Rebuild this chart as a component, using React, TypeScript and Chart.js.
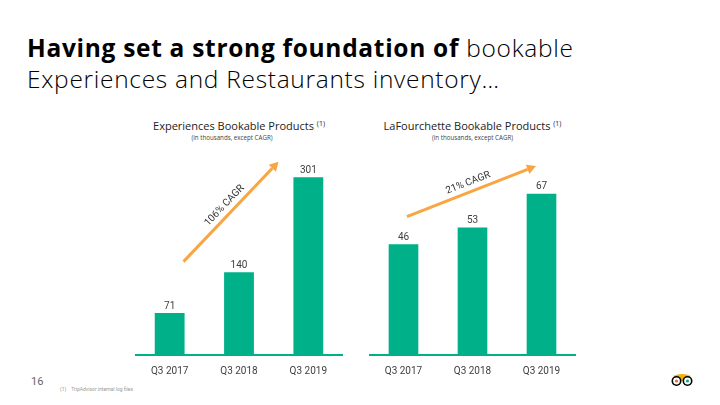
import React, { useEffect, useRef } from 'react';
import { Chart, registerables } from 'chart.js';

Chart.register(...registerables);

const categories = ['Q3 2017', 'Q3 2018', 'Q3 2019'];
const experiencesValues = [71, 140, 301];
const laFourchetteValues = [46, 53, 67];
const experiencesAxisMax = 330;
const laFourchetteAxisMax = 81;
// CAGR arrows in data space: [category index, value]
const experiencesCagr = { label: '106% CAGR', from: [0.2, 158], to: [1.57, 327] };
const laFourchetteCagr = { label: '21% CAGR', from: [0.05, 57.5], to: [1.92, 78.5] };

const GREEN = '#00B088';
const ORANGE = '#F9A541';
const LABEL_FONT = 'Roboto';

const valueLabelPlugin = {
  id: 'valueLabels',
  afterDatasetsDraw(chart: any) {
    const ctx = chart.ctx;
    const meta = chart.getDatasetMeta(0);
    const data = chart.data.datasets[0].data;
    ctx.save();
    ctx.font = `10px ${LABEL_FONT}`;
    ctx.fillStyle = '#404040';
    ctx.textAlign = 'center';
    ctx.textBaseline = 'bottom';
    meta.data.forEach((bar: any, i: number) => {
      ctx.fillText(String(data[i]), bar.x, bar.y - 2);
    });
    ctx.restore();
  },
};

const arrowPlugin = {
  id: 'cagrArrow',
  afterDatasetsDraw(chart: any, _args: any, opts: any) {
    if (!opts || !opts.from) return;
    const xs = chart.scales.x;
    const ys = chart.scales.y;
    const x1 = xs.getPixelForValue(opts.from[0]);
    const y1 = ys.getPixelForValue(opts.from[1]);
    const x2 = xs.getPixelForValue(opts.to[0]);
    const y2 = ys.getPixelForValue(opts.to[1]);
    const ang = Math.atan2(y2 - y1, x2 - x1);
    const headLen = 9;
    const headW = 5;
    const bx = x2 - headLen * Math.cos(ang);
    const by = y2 - headLen * Math.sin(ang);
    const ctx = chart.ctx;
    ctx.save();
    ctx.strokeStyle = ORANGE;
    ctx.fillStyle = ORANGE;
    ctx.lineWidth = 3;
    ctx.beginPath();
    ctx.moveTo(x1, y1);
    ctx.lineTo(bx, by);
    ctx.stroke();
    ctx.beginPath();
    ctx.moveTo(x2, y2);
    ctx.lineTo(bx + headW * Math.sin(ang), by - headW * Math.cos(ang));
    ctx.lineTo(bx - headW * Math.sin(ang), by + headW * Math.cos(ang));
    ctx.closePath();
    ctx.fill();
    // label along arrow
    const mx = (x1 + x2) / 2;
    const my = (y1 + y2) / 2;
    ctx.translate(mx, my);
    ctx.rotate(ang);
    ctx.font = `10px ${LABEL_FONT}`;
    ctx.fillStyle = '#333333';
    ctx.textAlign = 'center';
    ctx.textBaseline = 'middle';
    ctx.fillText(opts.label, 0, -9);
    ctx.restore();
  },
};

function BarChart(props: { values: number[]; max: number; cagr: any; left: number; width: number }) {
  const ref = useRef<HTMLCanvasElement | null>(null);
  useEffect(() => {
    if (!ref.current) return;
    const chart = new Chart(ref.current, {
      type: 'bar',
      data: {
        labels: categories,
        datasets: [
          {
            data: props.values,
            backgroundColor: GREEN,
            borderWidth: 0,
            barPercentage: 0.43,
            categoryPercentage: 1,
          },
        ],
      },
      options: {
        animation: false,
        responsive: false,
        layout: { padding: { top: 20, left: 0, right: 0, bottom: 0 } },
        plugins: {
          legend: { display: false },
          tooltip: { enabled: false },
          title: { display: false },
          cagrArrow: props.cagr,
        } as any,
        scales: {
          x: {
            grid: { display: false, drawTicks: false },
            border: { display: true, color: GREEN, width: 2 },
            ticks: { font: { family: LABEL_FONT, size: 10 }, color: '#404040', padding: 10, maxRotation: 0 },
          },
          y: { display: false, min: 0, max: props.max },
        },
      },
      plugins: [valueLabelPlugin, arrowPlugin],
    });
    return () => chart.destroy();
  }, []);
  return (
    <canvas
      ref={ref}
      width={props.width}
      height={247}
      style={{ position: 'absolute', left: props.left, top: 140, width: props.width, height: 247 }}
    />
  );
}

function ChartTitle(props: { left: number; width: number; title: string; subShift: number }) {
  return (
    <>
      <div
        style={{
          position: 'absolute',
          left: props.left,
          top: 119,
          width: props.width,
          textAlign: 'center',
          fontFamily: '"Open Sans", sans-serif',
          fontSize: 11,
          lineHeight: '14px',
          color: '#222',
          whiteSpace: 'nowrap',
        }}
      >
        {props.title} <sup style={{ fontSize: 7, verticalAlign: 'top', lineHeight: '10px' }}>(1)</sup>
      </div>
      <div
        style={{
          position: 'absolute',
          left: props.left + props.subShift,
          top: 134,
          width: props.width,
          textAlign: 'center',
          fontFamily: '"Open Sans", sans-serif',
          fontSize: 6.2,
          lineHeight: '8px',
          color: '#444',
          whiteSpace: 'nowrap',
        }}
      >
        (in thousands, except CAGR)
      </div>
    </>
  );
}

function Logo() {
  return (
    <svg
      width={24}
      height={14}
      viewBox="0 0 24 14"
      style={{ position: 'absolute', left: 670, top: 373 }}
    >
      <path d="M3 3 Q12 -1 21 3 L12 8 Z" fill="#F2B203" />
      <circle cx={6.5} cy={8} r={5} fill="#000" />
      <circle cx={17.5} cy={8} r={5} fill="#000" />
      <circle cx={6.5} cy={8} r={3.4} fill="#fff" />
      <circle cx={17.5} cy={8} r={3.4} fill="#fff" />
      <circle cx={6.5} cy={8} r={1.6} fill="#EF6A45" />
      <circle cx={17.5} cy={8} r={1.6} fill="#00AF87" />
    </svg>
  );
}

export default function App() {
  return (
    <div
      style={{
        position: 'absolute',
        left: 0,
        top: 0,
        width: 720,
        height: 405,
        background: '#fff',
        overflow: 'hidden',
      }}
    >
      <div
        style={{
          position: 'absolute',
          left: 27,
          top: 33,
          fontFamily: '"Open Sans", sans-serif',
          fontSize: 24.5,
          letterSpacing: '0.7px',
          lineHeight: '30.6px',
          color: '#000',
          whiteSpace: 'nowrap',
        }}
      >
        <span style={{ fontWeight: 700 }}>Having set a strong foundation of</span>
        <span style={{ fontWeight: 300 }}> bookable</span>
        <br />
        <span style={{ fontWeight: 300 }}>Experiences and Restaurants inventory…</span>
      </div>

      <ChartTitle left={135} width={208} title="Experiences Bookable Products" subShift={-7} />
      <ChartTitle left={369} width={207} title="LaFourchette Bookable Products" subShift={0} />

      <BarChart values={experiencesValues} max={experiencesAxisMax} cagr={experiencesCagr} left={135} width={208} />
      <BarChart values={laFourchetteValues} max={laFourchetteAxisMax} cagr={laFourchetteCagr} left={369} width={207} />

      <div
        style={{
          position: 'absolute',
          left: 31,
          top: 375,
          fontFamily: 'Roboto, sans-serif',
          fontSize: 11,
          lineHeight: '13px',
          color: '#666',
        }}
      >
        16
      </div>
      <div
        style={{
          position: 'absolute',
          left: 60,
          top: 386,
          fontFamily: 'Roboto, sans-serif',
          fontSize: 5,
          lineHeight: '6px',
          color: '#999',
          whiteSpace: 'nowrap',
        }}
      >
        (1)&nbsp;&nbsp;&nbsp;&nbsp;TripAdvisor internal log files
      </div>
      <Logo />
    </div>
  );
}
